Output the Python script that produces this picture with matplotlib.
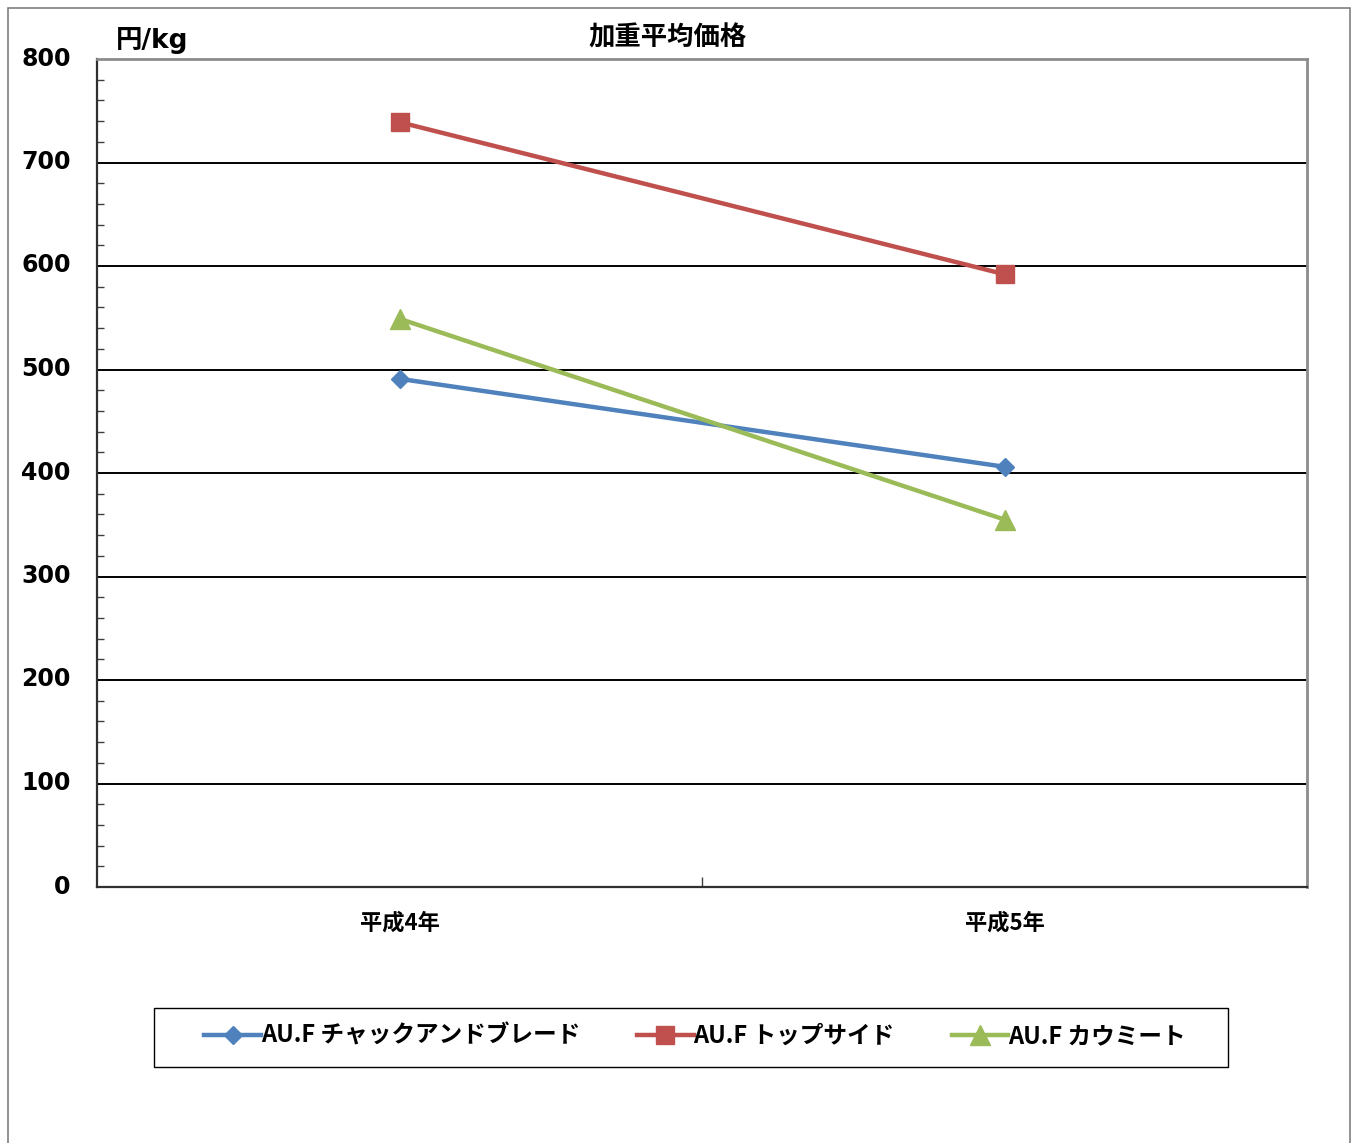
import matplotlib
matplotlib.use('Agg')
import matplotlib.pyplot as plt
import matplotlib.transforms as mtransforms
from matplotlib.patches import Rectangle

# -- data
categories = ['平成4年', '平成5年']
chuck = [491, 406]
topside = [739, 592]
cowmeat = [549, 355]
labels = ['AU.F チャックアンドブレード', 'AU.F トップサイド', 'AU.F カウミート']
yticks = [0, 100, 200, 300, 400, 500, 600, 700, 800]

jp = ['Noto Sans CJK JP', 'DejaVu Sans']
num = ['DejaVu Sans', 'Noto Sans CJK JP']

fig = plt.figure(figsize=(13.54, 11.43), dpi=100)
fig.patch.set_facecolor('white')
# -- outer frame
fig.patches.append(Rectangle((8/1354, -0.01), (1350-8)/1354, 1-8/1143+0.01,
                             transform=fig.transFigure, fill=False,
                             edgecolor='#7f7f7f', lw=1.2))
# -- legend frame
fig.patches.append(Rectangle((154/1354, 1-1067/1143), (1228-154)/1354, 59/1143,
                             transform=fig.transFigure, fill=False,
                             edgecolor='black', lw=1))

ax = fig.add_axes([97/1354, 1-887/1143, 1210/1354, 828/1143])
x = range(len(categories))

ax.plot(x, chuck, color='#4F81BD', lw=3.2, marker='D', ms=9.5, label=labels[0], zorder=3)
ax.plot(x, topside, color='#C0504D', lw=3.2, marker='s', ms=13, label=labels[1], zorder=3)
ax.plot(x, cowmeat, color='#9BBB59', lw=3.2, marker='^', ms=14, label=labels[2], zorder=3)

ax.set_xlim(-0.5, 1.5)
ax.set_ylim(0, 800)

# -- grid
for v in yticks[1:-1]:
    ax.axhline(v, color='black', lw=1.4, zorder=1)

ax.set_yticks(yticks)
ax.set_yticklabels([str(v) for v in yticks], fontfamily=num, fontweight='bold', fontsize=17)
ax.set_yticks(range(0, 801, 20), minor=True)
ax.tick_params(axis='y', which='major', direction='in', length=0, pad=19)
ax.tick_params(axis='y', which='minor', direction='in', length=5, width=1, color='#404040')
# -- nudge y labels up a little, as in the original
shift = mtransforms.ScaledTranslation(0, 3/100, fig.dpi_scale_trans)
for lab in ax.get_yticklabels():
    lab.set_transform(lab.get_transform() + shift)

ax.set_xticks([0.5], minor=True)
ax.set_xticks(list(x))
ax.set_xticklabels(categories, fontfamily=jp, fontweight='bold', fontsize=16)
ax.tick_params(axis='x', which='major', length=0, pad=18)
ax.tick_params(axis='x', which='minor', direction='in', length=7, width=1, color='#404040')

ax.spines['left'].set_color('#303030')
ax.spines['bottom'].set_color('#303030')
ax.spines['left'].set_linewidth(1.6)
ax.spines['bottom'].set_linewidth(1.6)
ax.spines['top'].set_color('#8c8c8c')
ax.spines['right'].set_color('#8c8c8c')
ax.spines['top'].set_linewidth(2)
ax.spines['right'].set_linewidth(2)

fig.text(668/1354, 1-38/1143, '加重平均価格', ha='center', va='center',
         fontfamily=jp, fontweight='bold', fontsize=19)
fig.text(116/1354, 1-40/1143, '円/kg', ha='left', va='center',
         fontfamily=num, fontweight='bold', fontsize=19)

leg = fig.legend(loc='center', bbox_to_anchor=(695/1354, 1-1036/1143), ncol=3,
                 prop={'family': jp, 'weight': 'bold', 'size': 17},
                 frameon=False, handlelength=2.4, handletextpad=0.0,
                 columnspacing=2.4, borderaxespad=0)

fig.savefig('out.png', dpi=100, facecolor='white')
